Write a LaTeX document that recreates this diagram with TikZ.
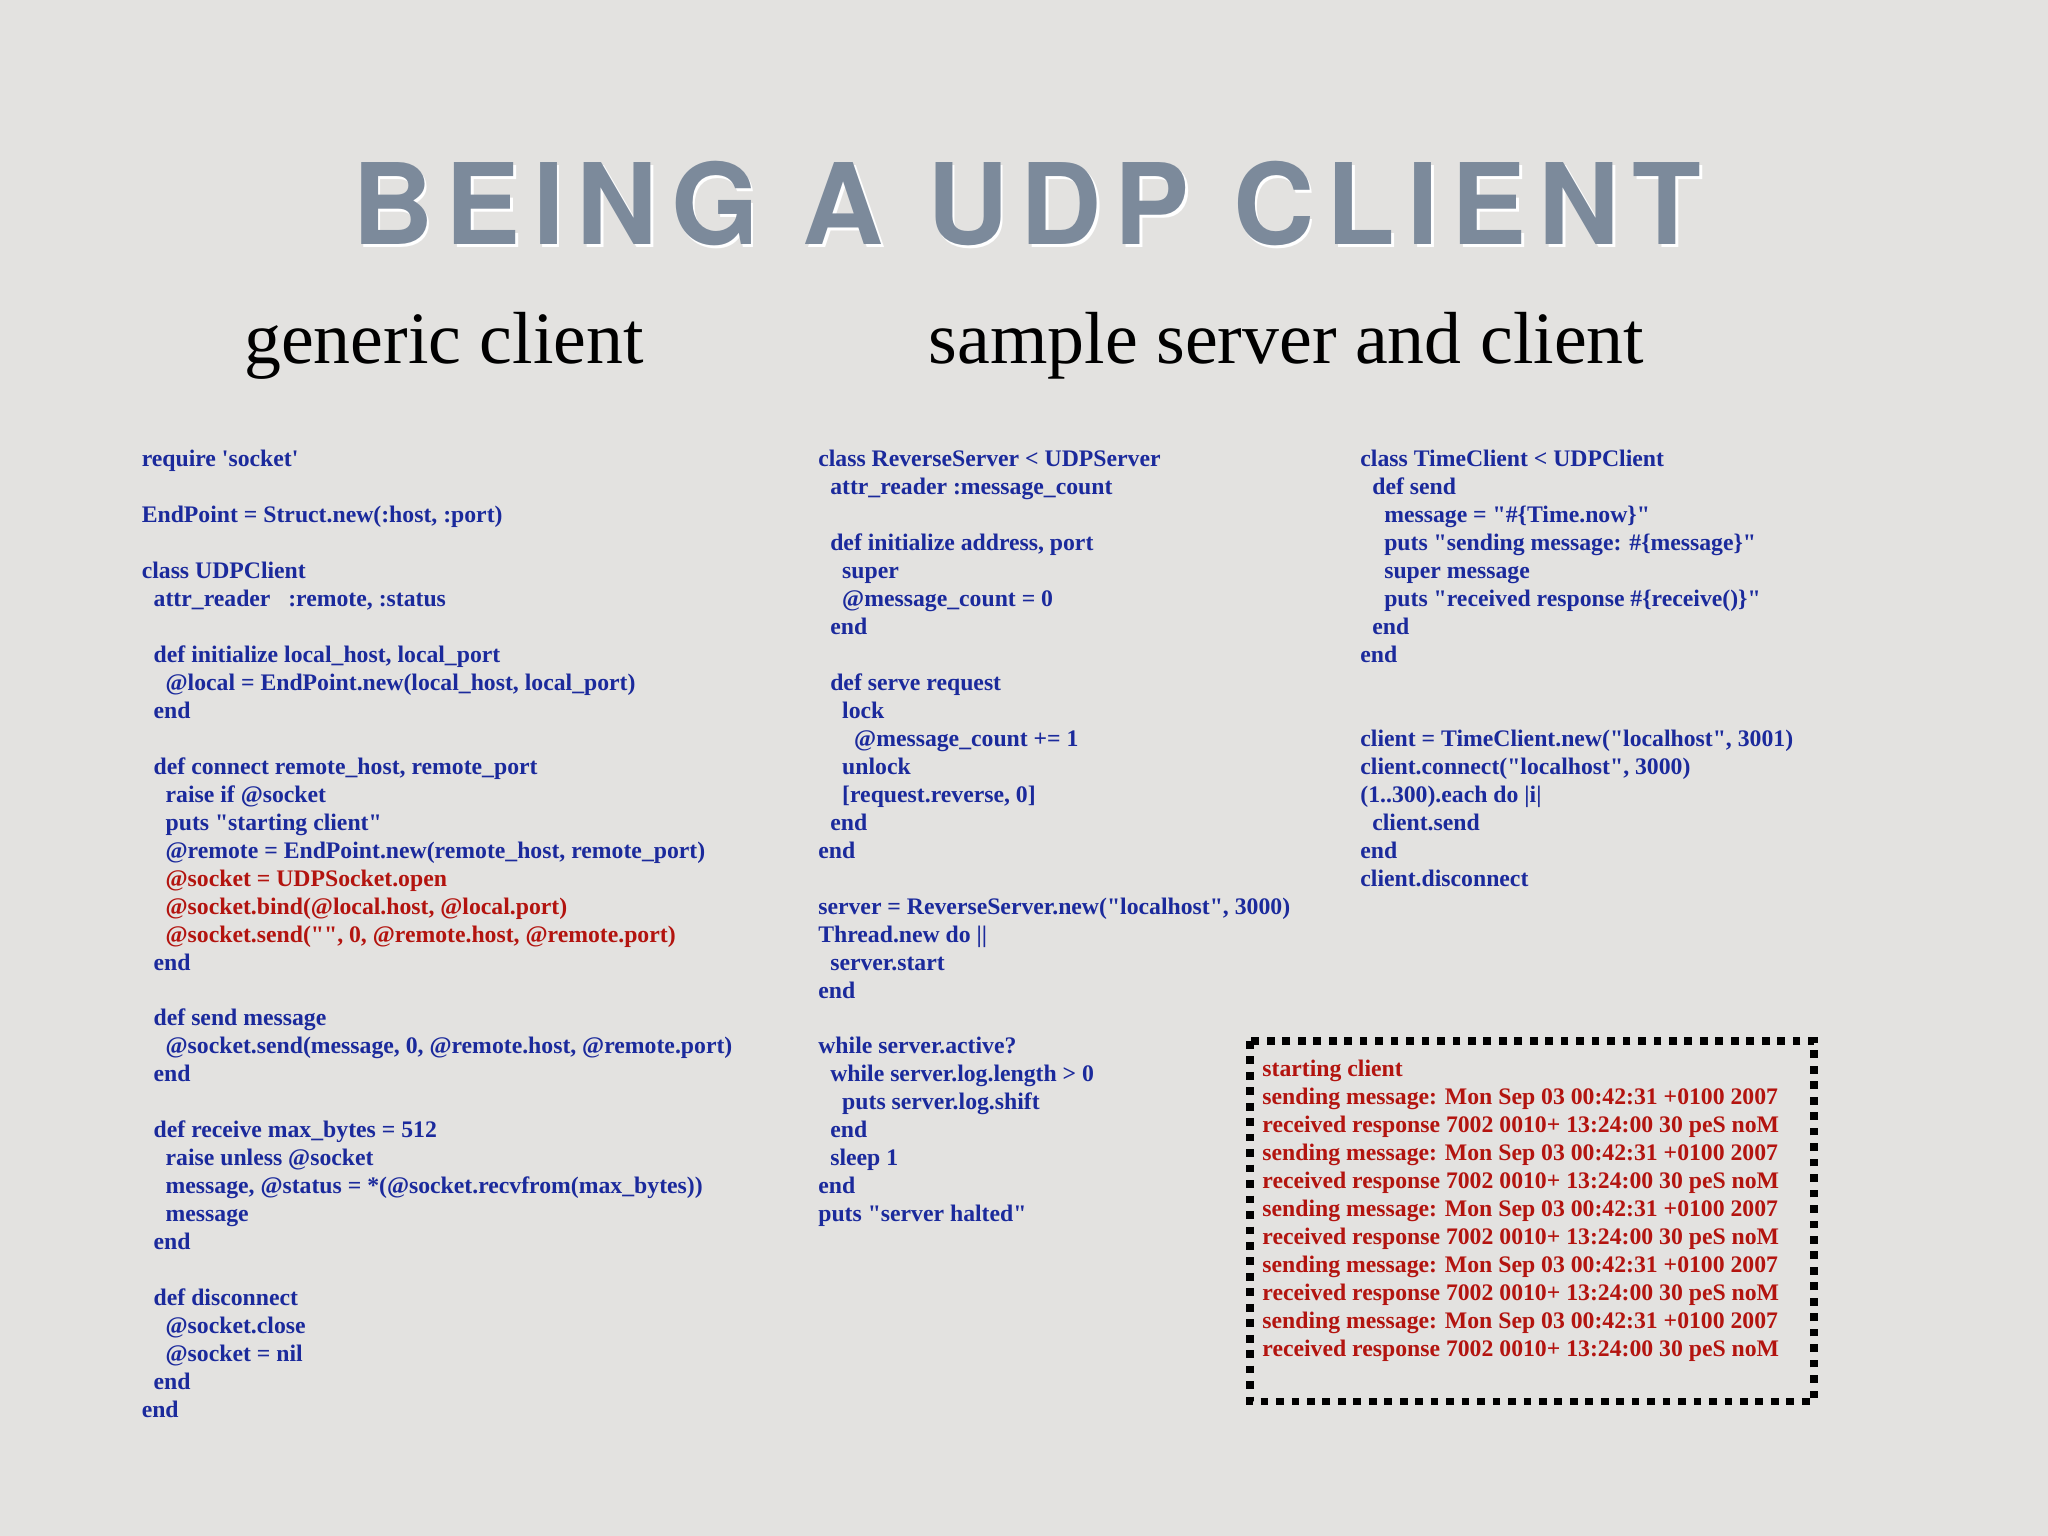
\documentclass[tikz,border=0pt]{standalone}
\usepackage{fontspec}
\setmainfont{Liberation Serif}
\newfontfamily\codefont{Liberation Serif}
\newfontfamily\titlefont[LetterSpace=11]{TeX Gyre Heros}
\definecolor{bgc}{HTML}{E3E2E0}
\definecolor{codeblue}{HTML}{1B2A9C}
\definecolor{codered}{HTML}{B3140F}
\definecolor{titlec}{HTML}{7C8A9B}
\newdimen\ipt \ipt=3.4pt
\newcommand\ind[1]{\hspace*{#1\ipt}}
\newcommand\rd[1]{\textcolor{codered}{#1}}
\tikzset{code/.style={anchor=north west,inner sep=0pt,align=left,text=codeblue,
  font=\codefont\bfseries\fontsize{6.75pt}{7.96pt}\selectfont}}
\begin{document}
\begin{tikzpicture}[x=0.01306cm,y=-0.01306cm]
\fill[bgc] (0,0) rectangle (1568,1176);
\useasboundingbox (0,0) rectangle (1568,1176);
\node[text=white,font=\titlefont\bfseries\fontsize{32pt}{32pt}\selectfont] (tsh) at (788,158) {BEING A UDP CLIENT};
\node[text=titlec,font=\titlefont\bfseries\fontsize{32pt}{32pt}\selectfont] (title) at (786,156) {BEING A UDP CLIENT};
\node[font=\fontsize{21pt}{21pt}\selectfont] (s1) at (340,265) {generic client};
\node[font=\fontsize{21pt}{21pt}\selectfont] (s2) at (985,265) {sample server and client};
\node[code] (b1) at (108,344) {require 'socket'\\ \mbox{}\\
EndPoint = Struct.new(:host, :port)\\ \mbox{}\\
class UDPClient\\
\ind1attr\_reader \ \ :remote, :status\\ \mbox{}\\
\ind1def initialize local\_host, local\_port\\
\ind2@local = EndPoint.new(local\_host, local\_port)\\
\ind1end\\ \mbox{}\\
\ind1def connect remote\_host, remote\_port\\
\ind2raise if @socket\\
\ind2puts "starting client"\\
\ind2@remote = EndPoint.new(remote\_host, remote\_port)\\
\ind2\rd{@socket = UDPSocket.open}\\
\ind2\rd{@socket.bind(@local.host, @local.port)}\\
\ind2\rd{@socket.send("", 0, @remote.host, @remote.port)}\\
\ind1end\\ \mbox{}\\
\ind1def send message\\
\ind2@socket.send(message, 0, @remote.host, @remote.port)\\
\ind1end\\ \mbox{}\\
\ind1def receive max\_bytes = 512\\
\ind2raise unless @socket\\
\ind2message, @status = *(@socket.recvfrom(max\_bytes))\\
\ind2message\\
\ind1end\\ \mbox{}\\
\ind1def disconnect\\
\ind2@socket.close\\
\ind2@socket = nil\\
\ind1end\\
end};
\node[code] (b2) at (626,344) {class ReverseServer < UDPServer\\
\ind1attr\_reader :message\_count\\ \mbox{}\\
\ind1def initialize address, port\\
\ind2super\\
\ind2@message\_count = 0\\
\ind1end\\ \mbox{}\\
\ind1def serve request\\
\ind2lock\\
\ind3@message\_count += 1\\
\ind2unlock\\
\ind2[request.reverse, 0]\\
\ind1end\\
end\\ \mbox{}\\
server = ReverseServer.new("localhost", 3000)\\
Thread.new do ||\\
\ind1server.start\\
end\\ \mbox{}\\
while server.active?\\
\ind1while server.log.length > 0\\
\ind2puts server.log.shift\\
\ind1end\\
\ind1sleep 1\\
end\\
puts "server halted"};
\node[code] (b3) at (1041,344) {class TimeClient < UDPClient\\
\ind1def send\\
\ind2message = "\#\{Time.now\}"\\
\ind2puts "sending message: \#\{message\}"\\
\ind2super message\\
\ind2puts "received response \#\{receive()\}"\\
\ind1end\\
end\\ \mbox{}\\ \mbox{}\\
client = TimeClient.new("localhost", 3001)\\
client.connect("localhost", 3000)\\
(1..300).each do |i|\\
\ind1client.send\\
end\\
client.disconnect};
\draw[line width=2.2pt,dash pattern=on 2.2pt off 2.2pt] (957,797) rectangle (1389,1073);
\node[code,text=codered] (out) at (966,811) {starting client\\
sending message: Mon Sep 03 00:42:31 +0100 2007\\
received response 7002 0010+ 13:24:00 30 peS noM\\
sending message: Mon Sep 03 00:42:31 +0100 2007\\
received response 7002 0010+ 13:24:00 30 peS noM\\
sending message: Mon Sep 03 00:42:31 +0100 2007\\
received response 7002 0010+ 13:24:00 30 peS noM\\
sending message: Mon Sep 03 00:42:31 +0100 2007\\
received response 7002 0010+ 13:24:00 30 peS noM\\
sending message: Mon Sep 03 00:42:31 +0100 2007\\
received response 7002 0010+ 13:24:00 30 peS noM};
\end{tikzpicture}
\end{document}
